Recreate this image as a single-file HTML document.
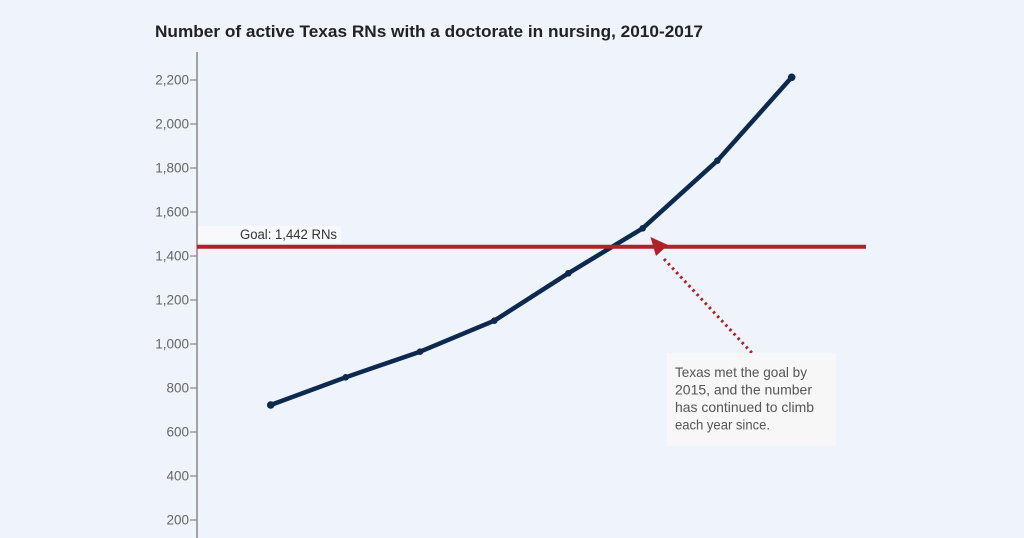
<!DOCTYPE html>
<html>
<head>
<meta charset="utf-8">
<style>
html,body{margin:0;padding:0;background:#eff3fb;}
svg{display:block;}
text{font-family:"Liberation Sans",sans-serif;}
</style>
</head>
<body>
<svg width="1024" height="538" viewBox="0 0 1024 538" xmlns="http://www.w3.org/2000/svg">
<rect width="1024" height="538" fill="#eff3fb"/>
<text x="155" y="37" font-size="16.5" font-weight="bold" fill="#222" textLength="548" lengthAdjust="spacingAndGlyphs">Number of active Texas RNs with a doctorate in nursing, 2010-2017</text>

<!-- y axis -->
<line x1="197" y1="52" x2="197" y2="538" stroke="#888" stroke-width="1.5"/>
<g stroke="#888" stroke-width="1.2">
<line x1="190" y1="80" x2="197" y2="80"/>
<line x1="190" y1="124" x2="197" y2="124"/>
<line x1="190" y1="168" x2="197" y2="168"/>
<line x1="190" y1="212" x2="197" y2="212"/>
<line x1="190" y1="256" x2="197" y2="256"/>
<line x1="190" y1="300" x2="197" y2="300"/>
<line x1="190" y1="344" x2="197" y2="344"/>
<line x1="190" y1="388" x2="197" y2="388"/>
<line x1="190" y1="432" x2="197" y2="432"/>
<line x1="190" y1="476" x2="197" y2="476"/>
<line x1="190" y1="520" x2="197" y2="520"/>
</g>
<g font-size="13.5" fill="#666" text-anchor="end">
<text x="189" y="84.5">2,200</text>
<text x="189" y="128.5">2,000</text>
<text x="189" y="172.5">1,800</text>
<text x="189" y="216.5">1,600</text>
<text x="189" y="260.5">1,400</text>
<text x="189" y="304.5">1,200</text>
<text x="189" y="348.5">1,000</text>
<text x="189" y="392.5">800</text>
<text x="189" y="436.5">600</text>
<text x="189" y="480.5">400</text>
<text x="189" y="524.5">200</text>
</g>

<!-- goal label -->
<rect x="198" y="226" width="143" height="17" fill="#f8f9fc"/>
<text x="240" y="239" font-size="13.5" fill="#333" textLength="97" lengthAdjust="spacingAndGlyphs">Goal: 1,442 RNs</text>

<!-- data line -->
<polyline fill="none" stroke="#0c2a50" stroke-width="4.5" stroke-linejoin="round" stroke-linecap="round"
 points="270.7,405 345.7,377.3 420,351.7 494.3,320.7 568.3,273.3 642.7,228.3 717.3,160.7 791.7,77.3"/>
<g fill="#0c2a50">
<circle cx="270.7" cy="405" r="3.8"/>
<circle cx="345.7" cy="377.3" r="3.3"/>
<circle cx="420" cy="351.7" r="3.3"/>
<circle cx="494.3" cy="320.7" r="3.3"/>
<circle cx="568.3" cy="273.3" r="3.3"/>
<circle cx="642.7" cy="228.3" r="3.3"/>
<circle cx="717.3" cy="160.7" r="3.3"/>
<circle cx="791.7" cy="77.3" r="3.8"/>
</g>

<!-- goal line -->
<line x1="197" y1="246.7" x2="866" y2="246.7" stroke="#b0222a" stroke-width="4"/>

<!-- arrow -->
<line x1="664" y1="259" x2="752" y2="353" stroke="#b0222a" stroke-width="3" stroke-dasharray="2.5 3.5"/>
<polygon points="650.5,237 668,245 656,256" fill="#b0222a"/>

<!-- annotation -->
<rect x="667" y="353" width="169" height="93" fill="#f7f7f8"/>
<g font-size="14" fill="#555" lengthAdjust="spacingAndGlyphs">
<text x="675" y="377" textLength="132" lengthAdjust="spacingAndGlyphs">Texas met the goal by</text>
<text x="675" y="394.5" textLength="137" lengthAdjust="spacingAndGlyphs">2015, and the number</text>
<text x="675" y="412" textLength="139" lengthAdjust="spacingAndGlyphs">has continued to climb</text>
<text x="675" y="429.5" textLength="95" lengthAdjust="spacingAndGlyphs">each year since.</text>
</g>
</svg>
</body>
</html>
